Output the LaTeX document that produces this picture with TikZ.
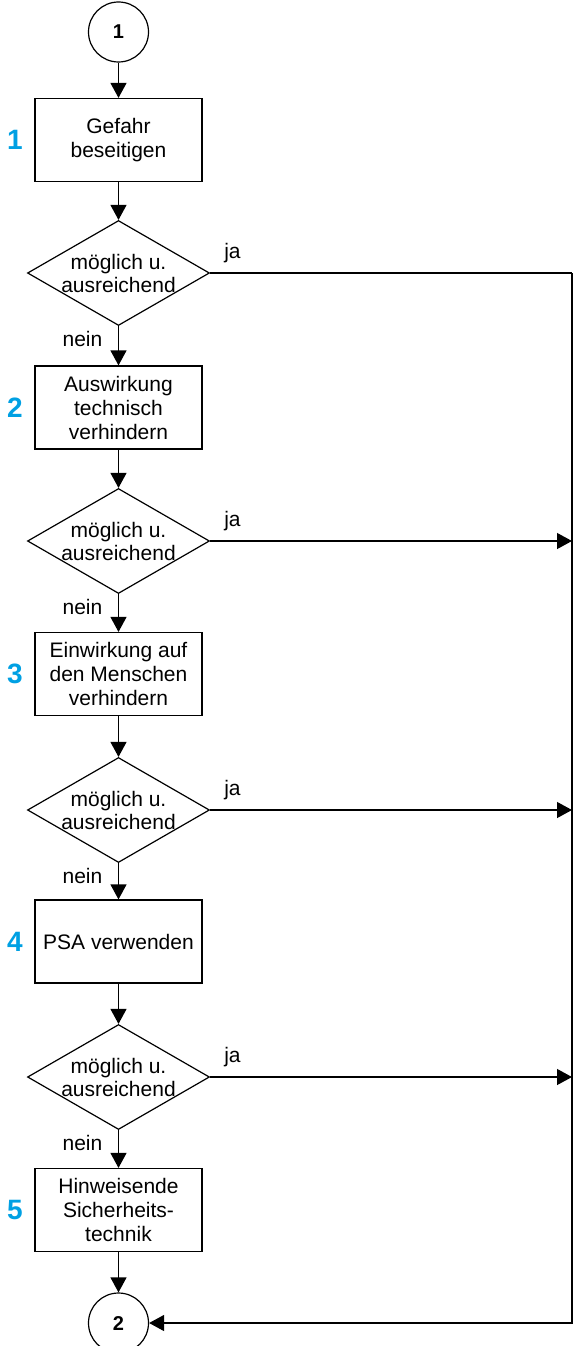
\documentclass[tikz,border=0pt]{standalone}
\usepackage{fontspec}
\setmainfont{Liberation Sans}
\usetikzlibrary{shapes.geometric,arrows.meta,calc}
\definecolor{stepblue}{RGB}{0,160,227}
\tikzset{
  base/.style={line width=1.2pt},
  stepbox/.style={draw, base, rectangle, minimum width=167pt, minimum height=83pt, inner sep=0pt, align=center, font=\fontsize{21}{24}\selectfont},
  decide/.style={draw, base, diamond, minimum width=182pt, minimum height=105pt, inner sep=0pt},
  decidetext/.style={align=center, inner sep=0pt, font=\fontsize{21}{23}\selectfont},
  conn/.style={draw, base, circle, minimum size=60pt, inner sep=0pt, font=\fontsize{20}{22}\selectfont\bfseries},
  flow/.style={base, -{Triangle[length=15pt,width=16pt]}},
  line/.style={base},
  stepnum/.style={text=stepblue, font=\fontsize{28}{30}\selectfont\bfseries, inner sep=0pt},
  lbl/.style={font=\fontsize{21}{24}\selectfont, inner sep=0pt}
}
\begin{document}
\begin{tikzpicture}[x=1pt,y=-1pt]
\useasboundingbox (0,0) rectangle (574,1346);
\node[conn] (c1) at (118.5,32) {1};
\node[stepbox] (b1) at (118.5,140) {Gefahr\\beseitigen};
\node[decide] (d1) at (118.5,273) {};
\node[decidetext] (t1) at (d1.center) {möglich u.\\ausreichend};
\node[stepbox] (b2) at (118.5,407.5) {Auswirkung\\technisch\\verhindern};
\node[decide] (d2) at (118.5,541) {};
\node[decidetext] (t2) at (d2.center) {möglich u.\\ausreichend};
\node[stepbox] (b3) at (118.5,674) {Einwirkung auf\\den Menschen\\verhindern};
\node[decide] (d3) at (118.5,810) {};
\node[decidetext] (t3) at (d3.center) {möglich u.\\ausreichend};
\node[stepbox] (b4) at (118.5,941.5) {PSA verwenden};
\node[decide] (d4) at (118.5,1077) {};
\node[decidetext] (t4) at (d4.center) {möglich u.\\ausreichend};
\node[stepbox] (b5) at (118.5,1210) {Hinweisende\\Sicherheits-\\technik};
\node[conn] (c2) at (118.5,1323) {2};

\node[stepnum] (s1) at (15,140) {1};
\node[stepnum] (s2) at (15,407.5) {2};
\node[stepnum] (s3) at (15,674) {3};
\node[stepnum] (s4) at (15,941.5) {4};
\node[stepnum] (s5) at (15,1210) {5};

\coordinate (r1) at (572,273);
\coordinate (r2) at (572,541);
\coordinate (r3) at (572,810);
\coordinate (r4) at (572,1077);
\coordinate (r5) at (572,1323);

\draw[flow] (c1) -- (b1);
\draw[flow] (b1) -- (d1.north);
\draw[flow] (d1.south) -- (b2);
\draw[flow] (b2) -- (d2.north);
\draw[flow] (d2.south) -- (b3);
\draw[flow] (b3) -- (d3.north);
\draw[flow] (d3.south) -- (b4);
\draw[flow] (b4) -- (d4.north);
\draw[flow] (d4.south) -- (b5);
\draw[flow] (b5) -- (c2);

\draw[line] (d1.east) -- (r1);
\draw[flow] (r1) -- (r5) -- (c2.east);
\draw[flow] (d2.east) -- (r2);
\draw[flow] (d3.east) -- (r3);
\draw[flow] (d4.east) -- (r4);

\foreach \d/\i in {d1/1,d2/2,d3/3,d4/4}{
  \node[lbl, anchor=base west] (ja\i) at ($(\d.east)+(14,-15)$) {ja};
  \node[lbl, anchor=base east] (nein\i) at ($(\d.south)+(-16,20)$) {nein};
}
\end{tikzpicture}
\end{document}
